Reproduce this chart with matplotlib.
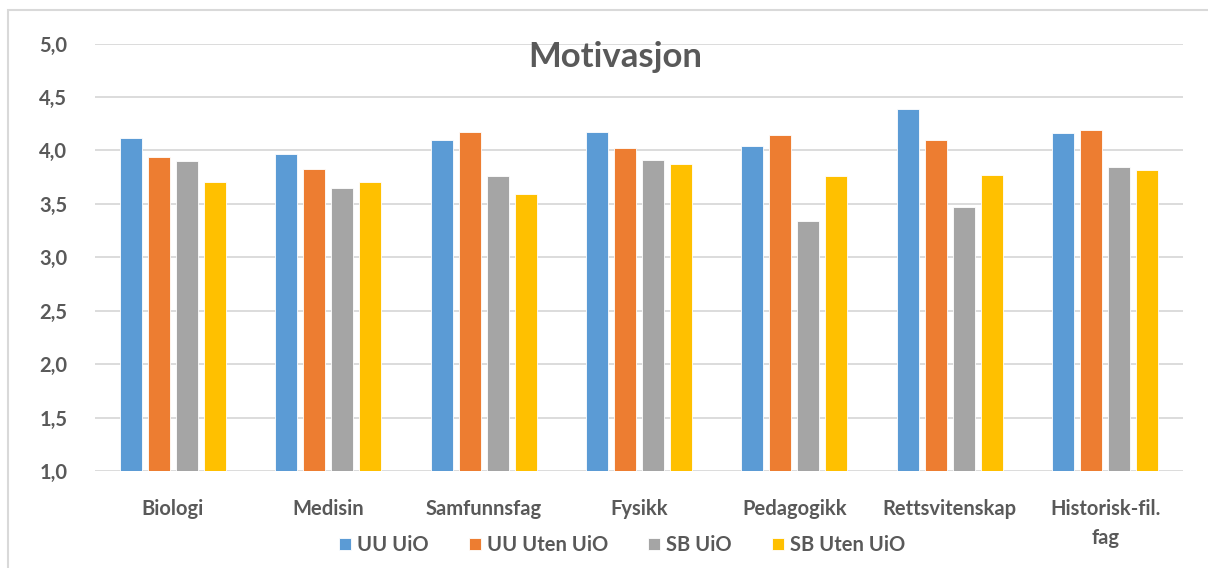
import numpy as np
import matplotlib.pyplot as plt
from matplotlib.patches import Rectangle

plt.rcParams['font.family'] = ['Lato', 'DejaVu Sans']

categories = ['Biologi', 'Medisin', 'Samfunnsfag', 'Fysikk', 'Pedagogikk',
              'Rettsvitenskap', 'Historisk-fil.\nfag']
series = ['UU UiO', 'UU Uten UiO', 'SB UiO', 'SB Uten UiO']
uu_uio = [4.12, 3.97, 4.10, 4.17, 4.04, 4.39, 4.16]
uu_uten = [3.94, 3.83, 4.17, 4.02, 4.14, 4.10, 4.19]
sb_uio = [3.90, 3.65, 3.76, 3.91, 3.34, 3.47, 3.84]
sb_uten = [3.70, 3.70, 3.59, 3.87, 3.76, 3.77, 3.82]
colors = ['#5B9BD5', '#ED7D31', '#A5A5A5', '#FFC000']
text_col = '#595959'

fig = plt.figure(figsize=(12.08, 5.68), dpi=100)
fig.patches.append(Rectangle((8 / 1208, -0.01), 1.2, 1 - 10 / 568 + 0.01,
                             transform=fig.transFigure, fill=False,
                             edgecolor='#D9D9D9', linewidth=1.5))
ax = fig.add_axes([95 / 1208, 1 - 471 / 568, 1088 / 1208, 427.5 / 568])

x = np.arange(len(categories))
pitch = 0.18
width = 0.142
for i, (vals, name) in enumerate(zip([uu_uio, uu_uten, sb_uio, sb_uten], series)):
    ax.bar(x + (i - 1.5) * pitch, np.array(vals) - 1.0, width, bottom=1.0,
           color=colors[i], edgecolor='white', linewidth=0.6, label=name, zorder=3)

ax.set_xlim(-0.5, len(categories) - 0.5)
ax.set_ylim(1.0, 5.0)
ax.set_yticks(np.arange(1.0, 5.01, 0.5))
ax.set_yticklabels([f'{v:.1f}'.replace('.', ',') for v in np.arange(1.0, 5.01, 0.5)])
ax.set_xticks(x)
ax.set_xticklabels(categories, linespacing=1.55)
ax.grid(axis='y', color='#D9D9D9', linewidth=1.3, zorder=0)
for s in ax.spines.values():
    s.set_visible(False)
ax.tick_params(length=0, colors=text_col, labelsize=14.5)
ax.tick_params(axis='y', pad=20)
ax.tick_params(axis='x', pad=20)
for lab in ax.get_xticklabels() + ax.get_yticklabels():
    lab.set_fontweight('bold')
    lab.set_color(text_col)

fig.text(0.509, 1 - 57 / 568, 'Motivasjon', ha='center', va='center',
         fontsize=25, fontweight='bold', color=text_col)

leg = fig.legend(loc='center', bbox_to_anchor=(0.515, 1 - 545 / 568), ncol=4,
                 frameon=False, fontsize=14.5, handlelength=0.6, handleheight=0.6,
                 handletextpad=0.3, columnspacing=2.0)
for t in leg.get_texts():
    t.set_color(text_col)
    t.set_fontweight('bold')

fig.savefig('out.png', dpi=100, facecolor='white')
